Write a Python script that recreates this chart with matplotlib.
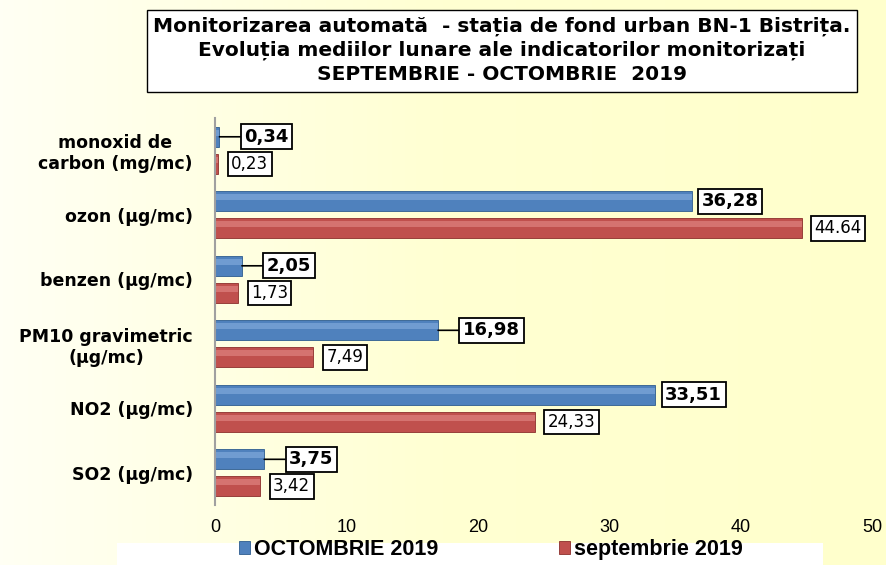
import matplotlib.pyplot as plt
import numpy as np
from matplotlib.colors import LinearSegmentedColormap
from matplotlib.patches import Rectangle

categories = ["monoxid de\ncarbon (mg/mc)", "ozon (µg/mc)", "benzen (µg/mc)",
              "PM10 gravimetric\n(µg/mc)", "NO2 (µg/mc)", "SO2 (µg/mc)"]
octombrie = [0.34, 36.28, 2.05, 16.98, 33.51, 3.75]
septembrie = [0.23, 44.64, 1.73, 7.49, 24.33, 3.42]
oct_labels = ["0,34", "36,28", "2,05", "16,98", "33,51", "3,75"]
sep_labels = ["0,23", "44.64", "1,73", "7,49", "24,33", "3,42"]

plt.rcParams['font.family'] = ['DejaVu Sans']
narrow = ['Liberation Sans', 'DejaVu Sans']

fig = plt.figure(figsize=(8.87, 5.65), dpi=100)

# fundal cu gradient
bg = fig.add_axes([0, 0, 1, 1], zorder=-5)
grad = np.linspace(0, 1, 256).reshape(1, -1)
cm_bg = LinearSegmentedColormap.from_list("bg", ["#FFFFF4", "#FFFFD2", "#FFFFCC"])
bg.imshow(grad, aspect="auto", cmap=cm_bg, extent=[0, 1, 0, 1])
bg.axis("off")

ax = fig.add_axes([0.2424, 0.106, 0.7406, 0.685])
ax.set_facecolor("none")

n = len(categories)
y = np.arange(n)[::-1]
h = 0.31
off = 0.21

b1 = ax.barh(y + off, octombrie, height=h, color="#4F81BD", edgecolor="#2E5C8F", linewidth=0.6)
b2 = ax.barh(y - off, septembrie, height=h, color="#C0504D", edgecolor="#8C2F2C", linewidth=0.6)

# efect 3D simplu: benzi de lumina
for bars, light in [(b1, "#8DB3E2"), (b2, "#E8908D")]:
    for p in bars:
        x0, y0, w, hh = p.get_x(), p.get_y(), p.get_width(), p.get_height()
        ax.fill_between([x0, x0 + w], y0 + hh * 0.55, y0 + hh * 0.85, color=light, alpha=0.55, lw=0)

box = dict(boxstyle="square,pad=0.2", fc="white", ec="black", lw=1.3)
for yi, v, lab in zip(y, octombrie, oct_labels):
    if v < 30:
        ax.annotate(lab, xy=(v, yi + off), xytext=(v + 1.9, yi + off), va="center", ha="left",
                    fontsize=13, fontweight="bold", bbox=box,
                    arrowprops=dict(arrowstyle="-", color="black", lw=1.2, shrinkA=0, shrinkB=0))
    else:
        ax.text(v + 0.75, yi + off, lab, va="center", ha="left",
                fontsize=13, fontweight="bold", bbox=box)
for yi, v, lab in zip(y, septembrie, sep_labels):
    ax.text(v + 1.0, yi - off, lab, va="center", ha="left", fontsize=12, bbox=box)

ax.set_xlim(0, 50)
ax.set_ylim(-0.5, n - 0.5)
ax.set_xticks(range(0, 51, 10))
ax.set_xticklabels([str(t) for t in range(0, 51, 10)], family=narrow, fontsize=13)
ax.set_yticks(y)
ax.set_yticklabels(categories, fontsize=12.5, fontweight="bold", multialignment="center")
ax.tick_params(axis="y", length=0, pad=16)
ax.tick_params(axis="x", length=0, pad=10)
for s in ["top", "right", "bottom"]:
    ax.spines[s].set_visible(False)
ax.spines["left"].set_color("#A0A0A0")
ax.spines["left"].set_linewidth(1.5)

# titlu in caseta
fig.patches.append(Rectangle((147 / 887, 1 - 92 / 565), 710 / 887, 82 / 565,
                             transform=fig.transFigure, fc="white", ec="black", lw=1, zorder=1))
fig.text(502 / 887, 1 - 50 / 565, "Monitorizarea automată  - stația de fond urban BN-1 Bistrița.\n"
         "Evoluția mediilor lunare ale indicatorilor monitorizați\n"
         "SEPTEMBRIE - OCTOMBRIE  2019",
         ha="center", va="center", fontsize=14.5, fontweight="bold", linespacing=1.32, zorder=2)

# legenda jos
fig.patches.append(Rectangle((117 / 887, 0), 706 / 887, 22 / 565,
                             transform=fig.transFigure, fc="white", ec="none", zorder=1))
leg = fig.legend([b1, b2], ["OCTOMBRIE 2019", "septembrie 2019"], loc="lower left",
                 bbox_to_anchor=(0.2525, -0.018), ncol=2, frameon=False,
                 prop=dict(family=narrow, size=15.5, weight="bold"), handlelength=0.5, handleheight=0.5,
                 columnspacing=5.6, handletextpad=0.2, borderpad=0.2)

fig.savefig("out.png", dpi=100)
